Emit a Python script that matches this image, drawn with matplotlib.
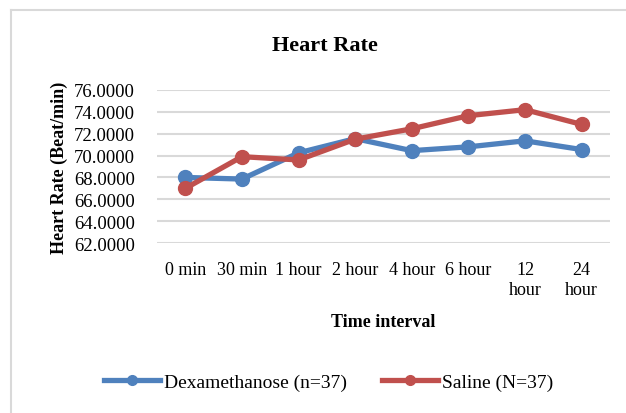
import matplotlib.pyplot as plt
from matplotlib.lines import Line2D

# data
time_labels = ["0 min", "30 min", "1 hour", "2 hour", "4 hour", "6 hour", "12\nhour", "24\nhour"]
dexa = [68.0, 67.85, 70.25, 71.55, 70.45, 70.8, 71.35, 70.55]
saline = [67.0, 69.9, 69.6, 71.5, 72.45, 73.65, 74.2, 72.85]
y_ticks = [62, 64, 66, 68, 70, 72, 74, 76]

blue = "#4F81BD"
red = "#C0504D"

plt.rcParams["font.family"] = ["Liberation Serif", "DejaVu Serif"]

fig = plt.figure(figsize=(6.26, 4.14), dpi=100)
ax = fig.add_axes([0.2508, 0.4106, 0.7236, 0.3696])

x = range(len(time_labels))
ax.plot(x, dexa, color=blue, lw=3.8, marker="o", ms=10, label="Dexamethanose (n=37)")
ax.plot(x, saline, color=red, lw=3.8, marker="o", ms=10, label="Saline (N=37)")

ax.set_xlim(-0.5, len(time_labels) - 0.5)
ax.set_ylim(62, 76)
ax.set_yticks(y_ticks)
ax.set_yticklabels(["%.4f" % v for v in y_ticks], fontsize=13.5)
ax.set_xticks(list(x))
ax.set_xticklabels(time_labels, va="top", fontsize=13)
ax.tick_params(axis="both", length=0)
ax.tick_params(axis="y", pad=16)
ax.tick_params(axis="x", pad=13)
ax.grid(axis="y", color="#D9D9D9", lw=1.5)
ax.set_axisbelow(True)
for s in ax.spines.values():
    s.set_visible(False)

ax.set_ylabel("Heart Rate (Beat/min)", fontsize=13, fontweight="bold", labelpad=4)
ax.set_xlabel("Time interval", fontsize=13, fontweight="bold", labelpad=11)
fig.text(0.519, 0.888, "Heart Rate", ha="center", va="center", fontsize=16, fontweight="bold")

# outer chart frame (top and left edges only are visible)
fig.add_artist(Line2D([11 / 626, 11 / 626], [0, 1 - 11 / 414], color="#D9D9D9", lw=1.5))
fig.add_artist(Line2D([11 / 626, 1], [1 - 11 / 414, 1 - 11 / 414], color="#D9D9D9", lw=1.5))

fig.legend(loc="center", bbox_to_anchor=(0.525, 0.075), ncol=2, frameon=False,
           fontsize=14, handlelength=2.9, handletextpad=0.2, columnspacing=1.8,
           markerscale=0.7)

fig.savefig("out.png", dpi=100)
